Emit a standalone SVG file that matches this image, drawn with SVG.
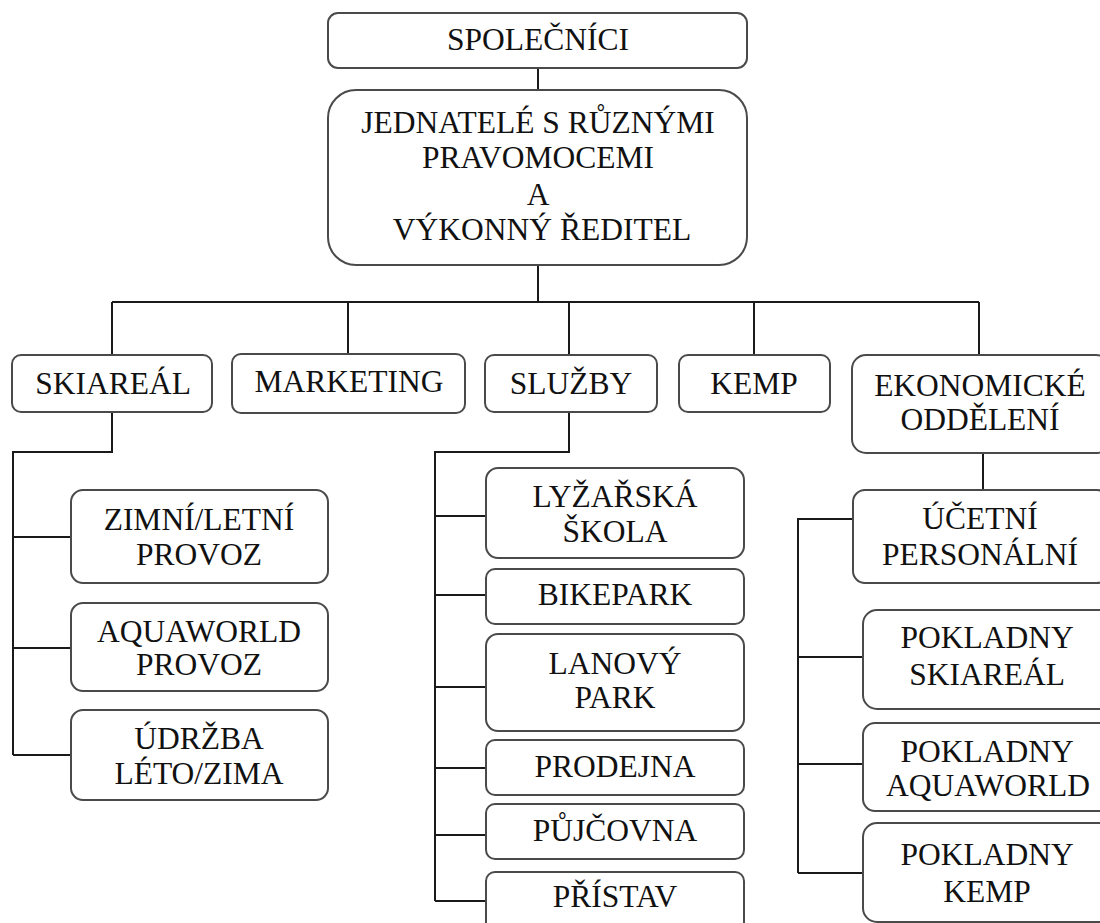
<svg xmlns="http://www.w3.org/2000/svg" width="1100" height="923" viewBox="0 0 1100 923">
<style>
.box{fill:#fff;stroke:#4a4a4a;stroke-width:2}
.ln{fill:none;stroke:#1a1a1a;stroke-width:2}
text{font-family:"Liberation Serif","Times New Roman",serif;font-size:31.5px;fill:#111;text-anchor:middle}
</style>
<rect width="1100" height="923" fill="#fff"/>
<g id="connectors" class="ln">
<path d="M538 68V90"/>
<path d="M538 265V302"/>
<path d="M112 302H979"/>
<path d="M112 302V355M348 302V354M569 302V355M754 302V355M979 302V355"/>
<path d="M112 412V452H13V755"/>
<path d="M13 537H71M13 648H71M13 755H71"/>
<path d="M569 412V452H435V901"/>
<path d="M435 516H486M435 595H486M435 687H486M435 768H486M435 835H486M435 901H486"/>
<path d="M983 453V490"/>
<path d="M853 519H798V873"/>
<path d="M798 657H863M798 764H863M798 873H863"/>
</g>
<g id="spolecnici"><rect class="box" x="328" y="13" width="419" height="55" rx="10"/><text x="538" y="50">SPOLEČNÍCI</text></g>
<g id="jednatele"><rect class="box" x="328" y="90" width="419" height="175" rx="28"/>
<text x="538" y="133">JEDNATELÉ S RŮZNÝMI</text><text x="538" y="168">PRAVOMOCEMI</text><text x="538" y="205">A</text><text x="542" y="240">VÝKONNÝ ŘEDITEL</text></g>
<g id="skiareal"><rect class="box" x="12" y="355" width="200" height="57" rx="9"/><text x="113" y="394">SKIAREÁL</text></g>
<g id="marketing"><rect class="box" x="232" y="354" width="233" height="59" rx="9"/><text x="349" y="392">MARKETING</text></g>
<g id="sluzby"><rect class="box" x="485" y="355" width="172" height="57" rx="9"/><text x="571" y="394">SLUŽBY</text></g>
<g id="kemp"><rect class="box" x="679" y="355" width="151" height="57" rx="9"/><text x="754" y="394">KEMP</text></g>
<g id="ekonomicke"><rect class="box" x="852" y="355" width="258" height="98" rx="14"/><text x="980" y="396">EKONOMICKÉ</text><text x="980" y="430">ODDĚLENÍ</text></g>
<g id="zimni"><rect class="box" x="71" y="490" width="257" height="93" rx="12"/><text x="199" y="530">ZIMNÍ/LETNÍ</text><text x="199" y="565">PROVOZ</text></g>
<g id="aquaworld-provoz"><rect class="box" x="71" y="603" width="257" height="88" rx="12"/><text x="199" y="642">AQUAWORLD</text><text x="199" y="675">PROVOZ</text></g>
<g id="udrzba"><rect class="box" x="71" y="710" width="257" height="90" rx="12"/><text x="199" y="749">ÚDRŽBA</text><text x="199" y="784">LÉTO/ZIMA</text></g>
<g id="lyzarska"><rect class="box" x="486" y="468" width="258" height="90" rx="12"/><text x="615" y="507">LYŽAŘSKÁ</text><text x="615" y="542">ŠKOLA</text></g>
<g id="bikepark"><rect class="box" x="486" y="569" width="258" height="55" rx="9"/><text x="615" y="605">BIKEPARK</text></g>
<g id="lanovy"><rect class="box" x="486" y="634" width="258" height="97" rx="12"/><text x="615" y="674">LANOVÝ</text><text x="615" y="708">PARK</text></g>
<g id="prodejna"><rect class="box" x="486" y="740" width="258" height="55" rx="9"/><text x="615" y="777">PRODEJNA</text></g>
<g id="pujcovna"><rect class="box" x="486" y="804" width="258" height="55" rx="9"/><text x="615" y="841">PŮJČOVNA</text></g>
<g id="pristav"><rect class="box" x="486" y="872" width="258" height="63" rx="9"/><text x="615" y="907">PŘÍSTAV</text></g>
<g id="ucetni"><rect class="box" x="853" y="490" width="256" height="93" rx="12"/><text x="980" y="529">ÚČETNÍ</text><text x="980" y="565">PERSONÁLNÍ</text></g>
<g id="pokladny-skiareal"><rect class="box" x="863" y="610" width="250" height="99" rx="14"/><text x="987" y="648">POKLADNY</text><text x="987" y="685">SKIAREÁL</text></g>
<g id="pokladny-aquaworld"><rect class="box" x="863" y="723" width="250" height="88" rx="12"/><text x="987" y="762">POKLADNY</text><text x="988" y="796">AQUAWORLD</text></g>
<g id="pokladny-kemp"><rect class="box" x="863" y="823" width="250" height="99" rx="14"/><text x="987" y="865">POKLADNY</text><text x="987" y="902">KEMP</text></g>
</svg>
